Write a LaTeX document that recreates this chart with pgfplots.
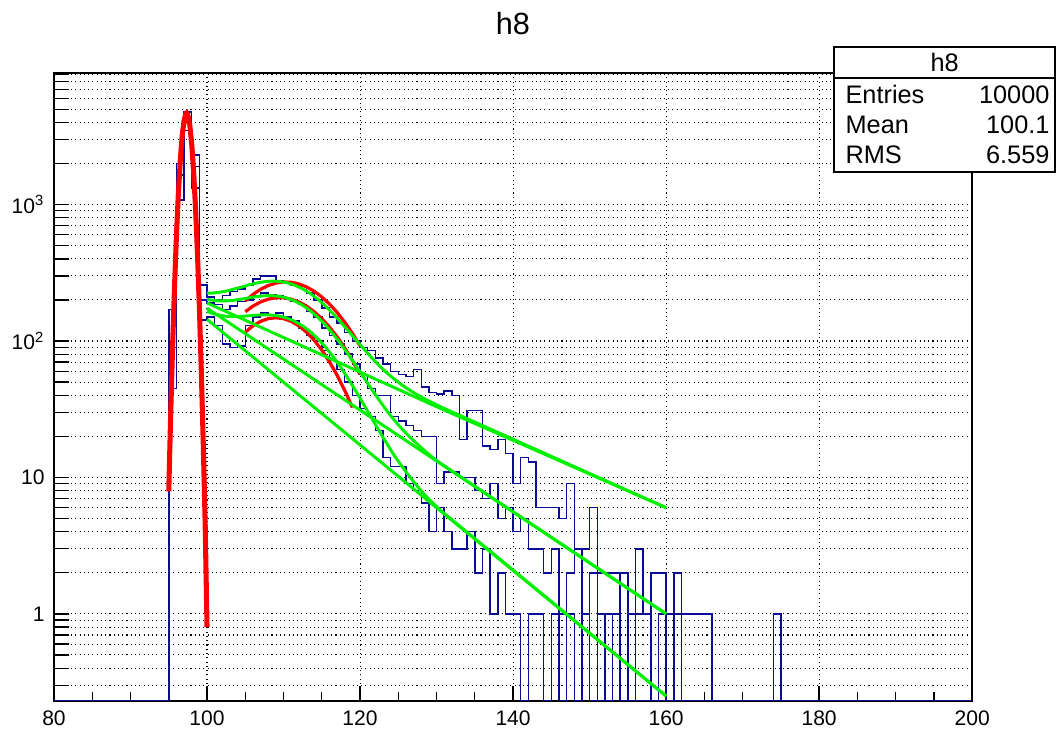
\documentclass[border=0pt]{standalone}
\usepackage{pgfplots}
\pgfplotsset{compat=1.18}
\usepackage{fontspec}
\setmainfont{Liberation Sans}
\definecolor{hblue}{RGB}{10,10,150}
\definecolor{fgreen}{RGB}{0,240,0}
\definecolor{fred}{RGB}{255,0,0}
\begin{document}
\begin{tikzpicture}
\path[use as bounding box] (-20.26pt,-11.26pt) rectangle (376.7pt,263.0pt);
\begin{axis}[
  at={(0pt,0pt)}, anchor=south west, scale only axis,
  width=344.5pt, height=235.6pt,
  xmin=80, xmax=200, ymode=log, ymin=0.23, ymax=9200,
  xtick={80,100,...,200}, minor x tick num=3,
  ytick={1,10,100,1000}, yticklabels={1,10,10\textsuperscript{2},10\textsuperscript{3}},
  yminorticks=false,
  extra y ticks={0.3,0.4,0.5,0.6,0.7,0.8,0.9,2,3,4,5,6,7,8,9,20,30,40,50,60,70,80,90,200,300,400,500,600,700,800,900,2000,3000,4000,5000,6000,7000,8000,9000},
  extra y tick labels={},
  extra y tick style={grid=major},
  tick align=inside, xtick pos=bottom, ytick pos=left,
  major tick length=5.6pt, minor tick length=3.2pt,
  xmajorgrids, ymajorgrids,
  grid style={black, line width=0.4pt, dash pattern=on 0.4pt off 1.2pt},
  tick style={black, line width=0.5pt},
  axis line style={line width=0.6pt},
  ticklabel style={font=\fontsize{7.9}{9}\selectfont},
  /pgf/number format/assume math mode=true,
]
% histogram 1
\addplot[hblue, line width=0.55pt, const plot, no marks] coordinates {
(80,0.23) (95,45) (96,1650) (97,4780) (98,1320) (99,257) (100,210) (101,200) (102,215) (103,230) (104,240) (105,255) (106,285) (107,300) (108,300) (109,275) (110,270) (111,255) (112,250) (113,225) (114,200) (115,175) (116,150) (117,135) (118,115) (119,100) (120,90) (121,85) (122,75) (123,68) (124,60) (125,57) (126,55) (127,62) (128,46) (129,42) (130,41) (131,43) (132,40) (133,19) (134,31) (135,31) (136,17) (137,16) (138,19) (139,15) (140,9) (141,14) (142,13) (143,6) (144,6) (145,6) (146,5) (147,9) (148,3) (149,3) (150,6) (151,2) (152,2) (153,2) (154,2) (155,1) (156,3) (157,1) (158,2) (159,2) (160,1) (161,2) (162,1) (163,1) (164,1) (165,1) (166,0.23) (174,1) (175,0.23) (200,0.23)
};
% histogram 2
\addplot[hblue, line width=0.55pt, const plot, no marks] coordinates {
(80,0.23) (95,170) (96,1080) (97,4200) (98,2300) (99,200) (100,190) (101,185) (102,170) (103,180) (104,195) (105,200) (106,215) (107,225) (108,220) (109,215) (110,205) (111,195) (112,185) (113,165) (114,150) (115,125) (116,110) (117,95) (118,80) (119,68) (120,57) (121,45) (122,40) (123,40) (124,28) (125,26) (126,24) (127,22) (128,20) (129,20) (130,9) (131,11) (132,11) (133,10) (134,10) (135,8) (136,7) (137,9) (138,5) (139,6) (140,4) (141,5) (142,3) (143,3) (144,2) (145,3) (146,1) (147,2) (148,3) (149,1) (150,2) (151,0.23) (152,1) (154,2) (155,0.23) (156,1) (158,0.23) (159,1) (160,0.23) (161,1) (162,0.23) (200,0.23)
};
% histogram 3
\addplot[hblue, line width=0.55pt, const plot, no marks] coordinates {
(80,0.23) (95,90) (96,2000) (97,3500) (98,1900) (99,142) (100,150) (101,130) (102,95) (103,90) (104,92) (105,130) (106,150) (107,160) (108,155) (109,160) (110,150) (111,140) (112,125) (113,110) (114,100) (115,85) (116,72) (117,62) (118,50) (119,40) (120,32) (121,28) (122,22) (123,14) (124,12) (125,12) (126,9) (127,8) (128,6.5) (129,4) (130,6) (131,4) (132,3) (133,3) (134,4) (135,2) (136,3) (137,1) (138,2) (139,1) (140,1) (141,0.23) (142,1) (144,0.23) (145,1) (146,0.23) (147,1) (148,0.23) (149,1) (150,0.23) (151,1) (152,0.23) (153,1) (154,0.23) (200,0.23)
};
% red peak fit
\addplot[fred, line width=1.9pt, no marks] coordinates {
(95.0,7.9) (95.25,29) (95.5,91) (95.75,249) (96.0,586) (96.25,1192) (96.5,2091) (96.75,3163) (97.0,4136) (97.25,4665) (97.33,4700) (97.5,4543) (97.75,3819) (98.0,2772) (98.25,1736) (98.5,940) (98.75,439) (99.0,177) (99.25,61) (99.5,18.5) (99.75,4.8) (100.0,0.8)
};
% red bump fits
\addplot[fred, line width=1.2pt, no marks] coordinates {
(105,196.4) (106,219.2) (107,239.2) (108,255) (109,265.8) (110,270.7) (111,269.5) (112,262.2) (113,249.3) (114,231.6) (115,210.4) (116,186.7) (117,162) (118,137.3) (119,113.8) (120,92.1)
};
\addplot[fred, line width=1.2pt, no marks] coordinates {
(105,163.9) (106,180.1) (107,193.3) (108,202.6) (109,207.4) (110,207.4) (111,202.6) (112,193.3) (113,180.1) (114,163.9) (115,145.7) (116,126.5) (117,107.3) (118,88.9) (119,71.9) (120,56.9)
};
\addplot[fred, line width=1.2pt, no marks] coordinates {
(105,116.1) (106,129.1) (107,139.3) (108,145.8) (109,148) (110,145.8) (111,139.3) (112,129.1) (113,116.1) (114,101.3) (115,85.8) (116,70.4) (117,56.1) (118,43.4) (119,32.5)
};
% green exponential fits
\addplot[fgreen, line width=1.1pt, no marks] coordinates {(100,190) (130,33) (160,6)};
\addplot[fgreen, line width=1.1pt, no marks] coordinates {(100,174) (130,13.2) (160,1)};
\addplot[fgreen, line width=1.1pt, no marks] coordinates {(100,144) (130,6) (160,0.25)};
% green total fits
\addplot[fgreen, line width=1.1pt, no marks] coordinates {
(100,224) (100.5,224) (101.5,227) (102.5,232) (103.5,240) (104.5,248) (105.5,258) (106.5,266) (107.5,272) (108.5,275) (109.5,273) (110.5,267) (111.5,256) (112.5,241) (113.5,223) (114.5,202) (115.5,180) (116.5,158) (117.5,137) (118.5,118) (119.5,101.5) (120.5,87.4) (121.5,75.6) (122.5,66) (123.5,58.4) (124.5,52.4) (125.5,47.5) (126.5,43.6) (127.5,40.3) (128.5,37.5) (129.5,35.2) (130.5,33.0) (160,6)
};
\addplot[fgreen, line width=1.1pt, no marks] coordinates {
(100,202) (100.5,199.6) (101.5,196.7) (102.5,196.6) (103.5,198.8) (104.5,202.7) (105.5,207.4) (106.5,211.8) (107.5,214.6) (108.5,215) (109.5,212.4) (110.5,206.1) (111.5,196) (112.5,182.7) (113.5,166.8) (114.5,149) (115.5,130.5) (116.5,112.2) (117.5,94.9) (118.5,79.2) (119.5,65.5) (120.5,54) (121.5,44.4) (122.5,36.9) (123.5,30.8) (124.5,26.2) (125.5,22.6) (126.5,19.8) (127.5,17.5) (128.5,15.6) (129.5,14.0) (130.5,12.7) (160,1)
};
\addplot[fgreen, line width=1.1pt, no marks] coordinates {
(100,164.8) (100.5,160.8) (101.5,155) (102.5,151.8) (103.5,150.9) (104.5,151.5) (105.5,153.1) (106.5,154.8) (107.5,155.7) (108.5,155) (109.5,152.2) (110.5,147) (111.5,139.1) (112.5,128.9) (113.5,117) (114.5,103.7) (115.5,90) (116.5,76.6) (117.5,63.9) (118.5,52.4) (119.5,42.5) (120.5,34.1) (121.5,27.3) (122.5,21.9) (123.5,17.7) (124.5,14.4) (125.5,12) (126.5,10.1) (127.5,8.6) (128.5,7.4) (129.5,6.5) (130.5,5.75) (160,0.25)
};
\end{axis}
% title
\node[font=\fontsize{11.5}{13}\selectfont] at (172.2pt,254pt) {h8};
% stats box
\draw[line width=0.6pt, fill=white] (292.7pt,198.5pt) rectangle (375.6pt,245.4pt);
\draw[line width=0.6pt] (292.7pt,233.8pt) -- (375.6pt,233.8pt);
\begin{scope}[every node/.style={font=\fontsize{9.5}{11}\selectfont, inner sep=0pt}]
\node at (334.2pt,239.6pt) {h8};
\node[anchor=west] at (296.8pt,227.4pt) {Entries};
\node[anchor=east] at (373.7pt,227.4pt) {10000};
\node[anchor=west] at (296.8pt,216.1pt) {Mean};
\node[anchor=east] at (373.7pt,216.1pt) {100.1};
\node[anchor=west] at (296.8pt,204.9pt) {RMS};
\node[anchor=east] at (373.7pt,204.9pt) {6.559};
\end{scope}
\end{tikzpicture}
\end{document}
